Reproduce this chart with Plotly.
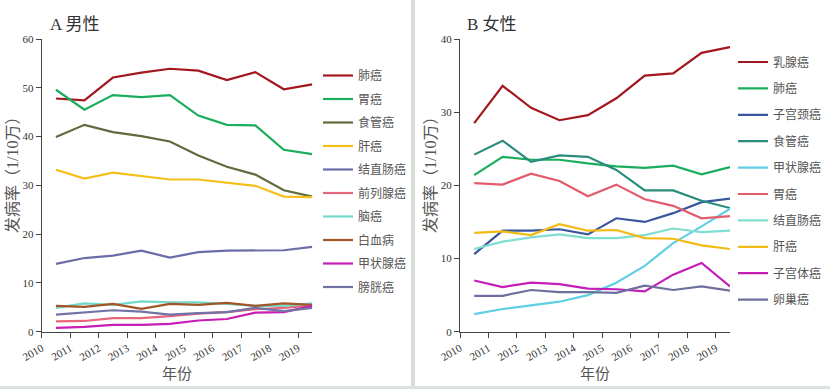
import plotly.graph_objects as go

years = [2010, 2011, 2012, 2013, 2014, 2015, 2016, 2017, 2018, 2019]
tick_labels = [str(y) for y in years]

# A 男性
male_names = ["肺癌", "胃癌", "食管癌", "肝癌", "结直肠癌", "前列腺癌", "脑癌", "白血病", "甲状腺癌", "膀胱癌"]
m_lung = [47.8, 47.4, 52.1, 53.1, 53.9, 53.5, 51.6, 53.2, 49.7, 50.7]
m_stomach = [49.6, 45.5, 48.5, 48.1, 48.5, 44.3, 42.4, 42.3, 37.3, 36.4]
m_esoph = [39.9, 42.4, 40.9, 40.1, 39.0, 36.1, 33.8, 32.2, 29.0, 27.7]
m_liver = [33.2, 31.4, 32.6, 31.9, 31.2, 31.2, 30.6, 29.9, 27.7, 27.6]
m_colorectal = [13.9, 15.1, 15.6, 16.6, 15.2, 16.3, 16.6, 16.6, 16.7, 17.4]
m_prostate = [2.1, 2.2, 2.8, 2.8, 3.2, 3.7, 4.0, 4.6, 4.9, 5.4]
m_brain = [4.9, 5.8, 5.5, 6.2, 6.0, 6.0, 5.7, 5.3, 5.3, 5.8]
m_leukemia = [5.3, 5.1, 5.7, 4.7, 5.7, 5.5, 5.9, 5.3, 5.8, 5.5]
m_thyroid = [0.8, 1.0, 1.4, 1.4, 1.6, 2.3, 2.6, 3.9, 4.0, 5.3]
m_bladder = [3.5, 4.0, 4.4, 4.1, 3.5, 3.8, 4.0, 4.9, 4.2, 4.9]
male_values = [m_lung, m_stomach, m_esoph, m_liver, m_colorectal, m_prostate,
               m_brain, m_leukemia, m_thyroid, m_bladder]
male_colors = ["#A3171E", "#19AD5C", "#5E6B3C", "#F5BF1A", "#6C6CA8", "#E8667C",
               "#72D9CB", "#A3552A", "#C81DB6", "#7272A6"]

# B 女性
female_names = ["乳腺癌", "肺癌", "子宫颈癌", "食管癌", "甲状腺癌", "胃癌", "结直肠癌", "肝癌", "子宫体癌", "卵巢癌"]
f_breast = [28.5, 33.6, 30.6, 28.9, 29.6, 31.9, 35.0, 35.3, 38.1, 38.9]
f_lung = [21.4, 23.9, 23.5, 23.5, 23.0, 22.6, 22.4, 22.7, 21.5, 22.5]
f_cervix = [10.6, 13.8, 13.8, 14.0, 13.3, 15.5, 15.0, 16.2, 17.7, 18.2]
f_esoph = [24.2, 26.1, 23.2, 24.1, 23.9, 22.1, 19.3, 19.3, 17.9, 16.9]
f_thyroid = [2.4, 3.1, 3.6, 4.1, 5.0, 6.7, 9.0, 12.1, 14.4, 16.8]
f_stomach = [20.3, 20.1, 21.6, 20.6, 18.5, 20.1, 18.1, 17.2, 15.5, 15.8]
f_colorectal = [11.3, 12.3, 12.9, 13.3, 12.8, 12.8, 13.2, 14.1, 13.6, 13.8]
f_liver = [13.5, 13.7, 13.2, 14.7, 13.8, 13.9, 12.8, 12.7, 11.8, 11.3]
f_uterus = [7.0, 6.1, 6.7, 6.5, 5.9, 5.8, 5.5, 7.8, 9.4, 6.2]
f_ovary = [4.9, 4.9, 5.7, 5.4, 5.4, 5.3, 6.3, 5.7, 6.2, 5.6]
female_values = [f_breast, f_lung, f_cervix, f_esoph, f_thyroid, f_stomach,
                 f_colorectal, f_liver, f_uterus, f_ovary]
female_colors = ["#A3171E", "#19AD5C", "#3A55A0", "#2A8C7C", "#5FCFE6", "#E25C6C",
                 "#80DDD1", "#F2BA12", "#C41DB8", "#6E6F9E"]

FONT = "Liberation Serif, Noto Sans CJK SC, serif"
AXC = "#444444"

fig = go.Figure()
for name, vals, col in zip(male_names, male_values, male_colors):
    fig.add_trace(go.Scatter(x=years, y=vals, mode="lines", name=name,
                             line=dict(color=col, width=2.2), xaxis="x", yaxis="y",
                             legend="legend", legendgroup="m" + name))
for name, vals, col in zip(female_names, female_values, female_colors):
    fig.add_trace(go.Scatter(x=years, y=vals, mode="lines", name=name,
                             line=dict(color=col, width=2.2), xaxis="x2", yaxis="y2",
                             legend="legend2", legendgroup="f" + name))

tickvals = [y - 0.5 for y in years]
xcommon = dict(tickmode="array", tickvals=tickvals, ticktext=tick_labels,
               range=[years[0] - 0.5, years[-1]], showline=True, linecolor=AXC,
               linewidth=1, ticks="outside", ticklen=5, tickcolor=AXC,
               tickangle=-30, showgrid=False, zeroline=False, automargin=False,
               tickfont=dict(family=FONT, size=11, color="#333333"))
ycommon = dict(showline=True, linecolor=AXC, linewidth=1, ticks="outside",
               ticklen=5, tickcolor=AXC, showgrid=False, zeroline=False,
               automargin=False, tickfont=dict(family=FONT, size=11, color="#333333"))

ybot = 1 - 331.7 / 389
ytop = 1 - 39 / 389
fig.update_layout(
    width=830, height=389,
    margin=dict(l=0, r=0, t=0, b=0),
    paper_bgcolor="white", plot_bgcolor="white",
    xaxis=dict(domain=[41.7 / 830, 312.3 / 830], anchor="y", **xcommon),
    yaxis=dict(domain=[ybot, ytop], anchor="x", range=[0, 60], dtick=10, **ycommon),
    xaxis2=dict(domain=[460 / 830, 730 / 830], anchor="y2", **xcommon),
    yaxis2=dict(domain=[ybot, ytop], anchor="x2", range=[0, 40], dtick=10, **ycommon),
    legend=dict(x=318 / 830, y=1 - 61 / 389, xanchor="left", yanchor="top",
                font=dict(family=FONT, size=12, color="#555555"),
                tracegroupgap=4.5, bgcolor="rgba(0,0,0,0)"),
    legend2=dict(x=733 / 830, y=1 - 47.5 / 389, xanchor="left", yanchor="top",
                 font=dict(family=FONT, size=12, color="#555555"),
                 tracegroupgap=7.4, bgcolor="rgba(0,0,0,0)"),
    font=dict(family=FONT),
    showlegend=True,
)

ann = []
ann.append(dict(text="A 男性", x=48 / 830, y=1 - 25 / 389, xref="paper", yref="paper",
                xanchor="left", yanchor="middle", showarrow=False,
                font=dict(family=FONT, size=17, color="#333333")))
ann.append(dict(text="B 女性", x=465 / 830, y=1 - 25 / 389, xref="paper", yref="paper",
                xanchor="left", yanchor="middle", showarrow=False,
                font=dict(family=FONT, size=17, color="#333333")))
for xc in [12, 430]:
    ann.append(dict(text="发病率（1/10万）", x=xc / 830, y=1 - 171 / 389, xref="paper",
                    yref="paper", xanchor="center", yanchor="middle", textangle=-90,
                    showarrow=False, font=dict(family=FONT, size=16, color="#555555")))
for xc in [177, 595]:
    ann.append(dict(text="年份", x=xc / 830, y=1 - 374 / 389, xref="paper", yref="paper",
                    xanchor="center", yanchor="middle", showarrow=False,
                    font=dict(family=FONT, size=15, color="#555555")))
fig.update_layout(annotations=ann)

fig.update_layout(shapes=[
    dict(type="rect", xref="paper", yref="paper", x0=411 / 830, x1=415 / 830, y0=0, y1=1,
         fillcolor="#D6DED6", line=dict(width=0), layer="below"),
    dict(type="rect", xref="paper", yref="paper", x0=0, x1=1, y0=0, y1=3 / 389,
         fillcolor="#DCE2DC", line=dict(width=0), layer="below"),
])

fig.write_html("out.html", config={"displayModeBar": False},
               post_script="document.body.style.margin='0';document.body.style.overflow='hidden';")
